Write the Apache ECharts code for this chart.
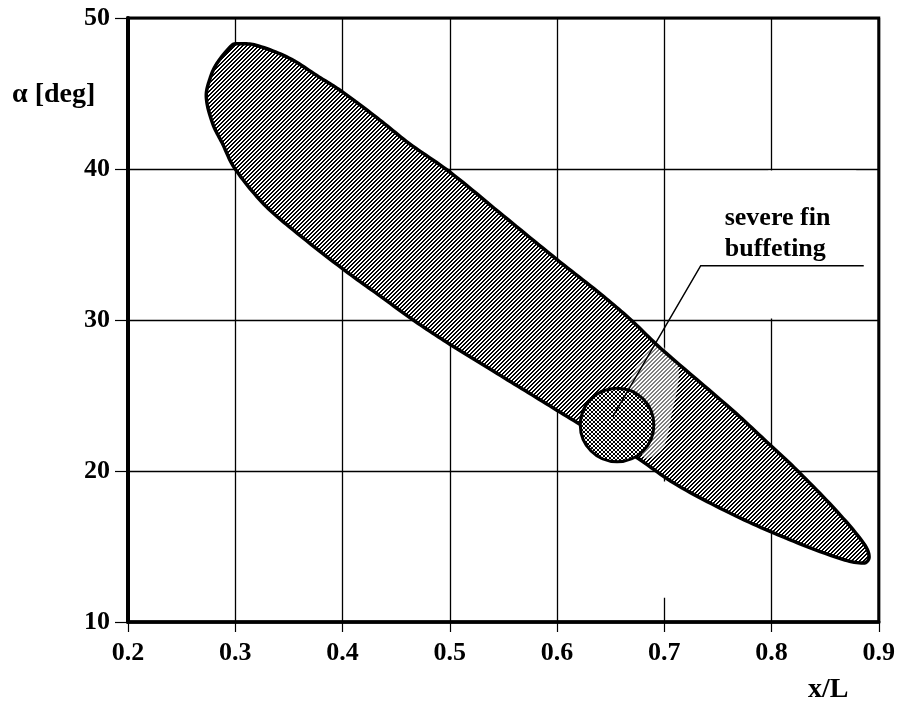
<!DOCTYPE html>
<html>
<head>
<meta charset="utf-8">
<script src="https://cdn.jsdelivr.net/npm/echarts@6/dist/echarts.min.js"></script>
<style>
  html, body { margin: 0; padding: 0; background: #fff; }
  #chart { width: 898px; height: 704px; }
</style>
</head>
<body>
<div id="chart"></div>
<script>
// Axis ticks
const xTicks = [0.2, 0.3, 0.4, 0.5, 0.6, 0.7, 0.8, 0.9];
const yTicks = [10, 20, 30, 40, 50];

// Boundary of the buffeting region: upper edge left to right
const upperX = [0.273, 0.277, 0.283, 0.297, 0.302, 0.319, 0.350, 0.378, 0.398, 0.432, 0.462, 0.500, 0.550, 0.600, 0.641, 0.669, 0.697, 0.764, 0.799, 0.823, 0.860, 0.886, 0.891];
const upperY = [44.8, 46.1, 47.0, 48.2, 48.3, 48.2, 47.35, 46.1, 45.2, 43.4, 41.7, 39.8, 36.9, 34.0, 31.7, 30.0, 28.1, 24.0, 21.7, 20.1, 17.4, 15.2, 14.3];
// ... and lower edge, right to left
const lowerX = [0.886, 0.860, 0.802, 0.756, 0.709, 0.672, 0.619, 0.580, 0.541, 0.500, 0.468, 0.433, 0.400, 0.350, 0.325, 0.299, 0.288, 0.279];
const lowerY = [13.9, 14.3, 15.9, 17.4, 19.2, 21.0, 23.2, 24.9, 26.6, 28.4, 29.9, 31.7, 33.4, 36.2, 37.8, 40.1, 41.7, 43.0];

// Severe fin buffeting spot: centre and radius (radius in x/L units)
const spotCenter = [0.656, 23.05];
const spotRadius = 0.0343;

// Leader line from the spot to its label
const leaderX = [0.652, 0.734, 0.886];
const leaderY = [23.6, 33.6, 33.6];
const spotLabel = 'severe fin\nbuffeting';

// Faded strip of hatching beside the leader line
const fadeX = [0.665, 0.692, 0.713, 0.706, 0.698, 0.681];
const fadeY = [25.2, 28.4, 26.9, 23.4, 21.4, 20.9];

const FONT = '"Liberation Serif", "DejaVu Serif", serif';

// Hatch tiles: single diagonal and cross hatch
function hatchTile(cross) {
  const n = 4;
  const c = document.createElement('canvas');
  c.width = n; c.height = n;
  const g = c.getContext('2d');
  g.fillStyle = '#fff';
  g.fillRect(0, 0, n, n);
  g.fillStyle = '#000';
  for (let i = 0; i < n; i++) {
    const j = n - 1 - i;
    g.fillRect(i, j, 1, 1);
    if (!cross) g.fillRect((i + 1) % n, j, 1, 1);
    else g.fillRect(i, i, 1, 1);
  }
  return c;
}
const diagFill = { image: hatchTile(false), repeat: 'repeat' };
const crossFill = { image: hatchTile(true), repeat: 'repeat' };

const outline = [];
upperX.forEach((x, i) => outline.push([x, upperY[i]]));
lowerX.forEach((x, i) => outline.push([x, lowerY[i]]));

// Closed smooth curve through pixel points (tangent-normalised cubic segments)
function smoothClosed(pts, steps) {
  const n = pts.length;
  const dir = pts.map((p, i) => {
    const a = pts[(i - 1 + n) % n], b = pts[(i + 1) % n];
    const dx = b[0] - a[0], dy = b[1] - a[1];
    const l = Math.hypot(dx, dy) || 1;
    return [dx / l, dy / l];
  });
  const out = [];
  for (let i = 0; i < n; i++) {
    const p1 = pts[i], p2 = pts[(i + 1) % n];
    const d = Math.hypot(p2[0] - p1[0], p2[1] - p1[1]) / 3;
    const c1 = [p1[0] + dir[i][0] * d, p1[1] + dir[i][1] * d];
    const c2 = [p2[0] - dir[(i + 1) % n][0] * d, p2[1] - dir[(i + 1) % n][1] * d];
    for (let s = 0; s < steps; s++) {
      const t = s / steps, u = 1 - t;
      out.push([
        u * u * u * p1[0] + 3 * u * u * t * c1[0] + 3 * u * t * t * c2[0] + t * t * t * p2[0],
        u * u * u * p1[1] + 3 * u * u * t * c1[1] + 3 * u * t * t * c2[1] + t * t * t * p2[1]
      ]);
    }
  }
  return out;
}

const chart = echarts.init(document.getElementById('chart'), null, { renderer: 'canvas' });

chart.setOption({
  animation: false,
  backgroundColor: '#fff',
  grid: {
    left: 128, right: 14, top: 18, bottom: 82,
    show: true, borderColor: '#000', borderWidth: 3, backgroundColor: 'transparent'
  },
  xAxis: {
    type: 'value', min: xTicks[0], max: xTicks[xTicks.length - 1], interval: 0.1,
    axisLine: { show: true, onZero: false, lineStyle: { color: '#000', width: 3.5 } },
    axisTick: { show: true, inside: false, length: 10, lineStyle: { color: '#000', width: 1.2 } },
    splitLine: { show: true, lineStyle: { color: '#000', width: 1.3 } },
    axisLabel: {
      margin: 18, color: '#000', fontFamily: FONT, fontWeight: 'bold', fontSize: 26,
      formatter: v => v.toFixed(1)
    }
  },
  yAxis: {
    type: 'value', min: yTicks[0], max: yTicks[yTicks.length - 1], interval: 10,
    axisLine: { show: true, onZero: false, lineStyle: { color: '#000', width: 4 } },
    axisTick: { show: true, inside: false, length: 13, lineStyle: { color: '#000', width: 1.2 } },
    splitLine: { show: true, lineStyle: { color: '#000', width: 1.3 } },
    axisLabel: { margin: 18, color: '#000', fontFamily: FONT, fontWeight: 'bold', fontSize: 26 }
  },
  graphic: [
    { type: 'text', left: 12, top: 81, style: { text: 'α [deg]', font: 'bold 28px ' + FONT, fill: '#000' } },
    { type: 'text', left: 808, top: 676, style: { text: 'x/L', font: 'bold 28px ' + FONT, fill: '#000' } }
  ],
  series: [
    {
      // paper patches where grid lines are blanked out
      type: 'line', data: [], z: 1, silent: true,
      markArea: {
        silent: true,
        itemStyle: { color: '#fff', opacity: 1 },
        data: [
          [{ coord: [0.797, 30.1] }, { coord: [0.879, 39.9] }],
          [{ coord: [0.696, 11.6] }, { coord: [0.704, 19.3] }]
        ]
      }
    },
    {
      type: 'custom', z: 3, silent: true,
      data: [0],
      renderItem: function (params, api) {
        const pts = smoothClosed(outline.map(p => api.coord(p)), 12);
        const fade = fadeX.map((x, i) => api.coord([x, fadeY[i]]));
        return {
          type: 'group',
          children: [
            { type: 'polygon', shape: { points: pts }, style: { fill: diagFill } },
            { type: 'polygon', shape: { points: fade, smooth: 0.3 }, style: { fill: 'rgba(255,255,255,0.5)' } },
            { type: 'polygon', shape: { points: pts }, style: { fill: null, stroke: '#000', lineWidth: 3.5, lineJoin: 'round' } }
          ]
        };
      }
    },
    {
      type: 'custom', z: 4, silent: true,
      data: [spotCenter],
      renderItem: function (params, api) {
        const c = api.coord(spotCenter);
        const r = api.size([spotRadius, 0])[0];
        return {
          type: 'circle',
          shape: { cx: c[0], cy: c[1], r: r },
          style: { fill: crossFill, stroke: '#000', lineWidth: 3 }
        };
      }
    },
    {
      type: 'custom', z: 5, silent: true,
      data: [0],
      renderItem: function (params, api) {
        const pts = leaderX.map((x, i) => api.coord([x, leaderY[i]]));
        const knee = pts[1];
        return {
          type: 'group',
          children: [
            {
              type: 'polyline',
              shape: { points: pts },
              style: { stroke: '#000', lineWidth: 1.5, fill: null }
            },
            {
              type: 'text',
              x: knee[0] + 24, y: knee[1] - 1,
              style: {
                text: spotLabel, font: 'bold 26px ' + FONT, lineHeight: 31,
                fill: '#000', align: 'left', verticalAlign: 'bottom'
              }
            }
          ]
        };
      }
    }
  ]
});
</script>
</body>
</html>
